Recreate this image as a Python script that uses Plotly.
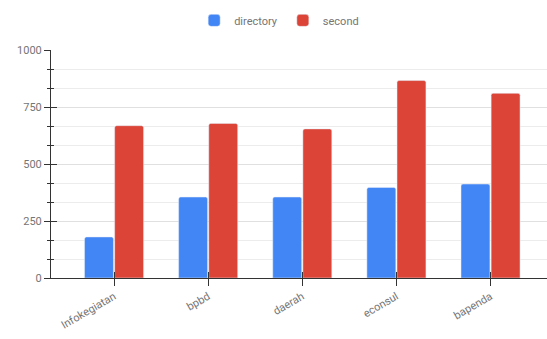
import plotly.graph_objects as go

categories = ["Infokegiatan", "bpbd", "daerah", "econsul", "bapenda"]
directory = [180, 355, 355, 397, 412]
second = [668, 678, 654, 866, 810]
y_ticks = [0, 250, 500, 750, 1000]

fig = go.Figure()
fig.add_trace(go.Bar(name="directory", x=categories, y=directory, marker_color="#4285F4"))
fig.add_trace(go.Bar(name="second", x=categories, y=second, marker_color="#DB4437"))
# overlay axes to draw tick marks on the inner side of both axes
fig.add_trace(go.Scatter(x=categories, y=[0] * len(categories), xaxis="x2", yaxis="y2",
                         mode="markers", marker=dict(opacity=0), showlegend=False,
                         hoverinfo="skip"))

font = dict(family="Roboto, Arial, sans-serif", size=11, color="#757575")
fig.update_layout(
    width=547, height=339,
    margin=dict(l=51, r=0, t=50, b=61),
    paper_bgcolor="white", plot_bgcolor="white",
    barmode="group", bargap=0.36, bargroupgap=0.04, barcornerradius=2,
    font=font,
    legend=dict(orientation="h", x=0.46, xanchor="center", y=1.13, yanchor="middle",
                font=dict(size=11, color="#757575"), itemwidth=30),
    xaxis=dict(range=[-0.67, 4.6], tickangle=-30, showline=True, linecolor="#333333",
               linewidth=1, ticks="outside", ticklen=7, tickcolor="#333333",
               showgrid=False, tickfont=font),
    xaxis2=dict(overlaying="x", anchor="y2", side="bottom", type="category",
                range=[-0.67, 4.6], showticklabels=False, showgrid=False,
                showline=False, ticks="inside", ticklen=6, tickcolor="#333333"),
    yaxis=dict(range=[0, 1000], tickvals=y_ticks, showline=True, linecolor="#333333",
               linewidth=1, ticks="outside", ticklen=6, tickcolor="#333333",
               gridcolor="#e0e0e0", zeroline=False, tickfont=font,
               minor=dict(dtick=250/3, tick0=0, showgrid=True, gridcolor="#ececec",
                          ticks="outside", ticklen=3, tickcolor="#333333")),
    yaxis2=dict(overlaying="y", side="left", anchor="x2", range=[0, 1000], tickvals=y_ticks,
                showticklabels=False, showgrid=False, zeroline=False, ticks="inside",
                ticklen=6, tickcolor="#333333",
                minor=dict(dtick=250/3, tick0=0, ticks="inside", ticklen=3,
                           tickcolor="#333333", showgrid=False)),
)
fig.write_html("out.html")
